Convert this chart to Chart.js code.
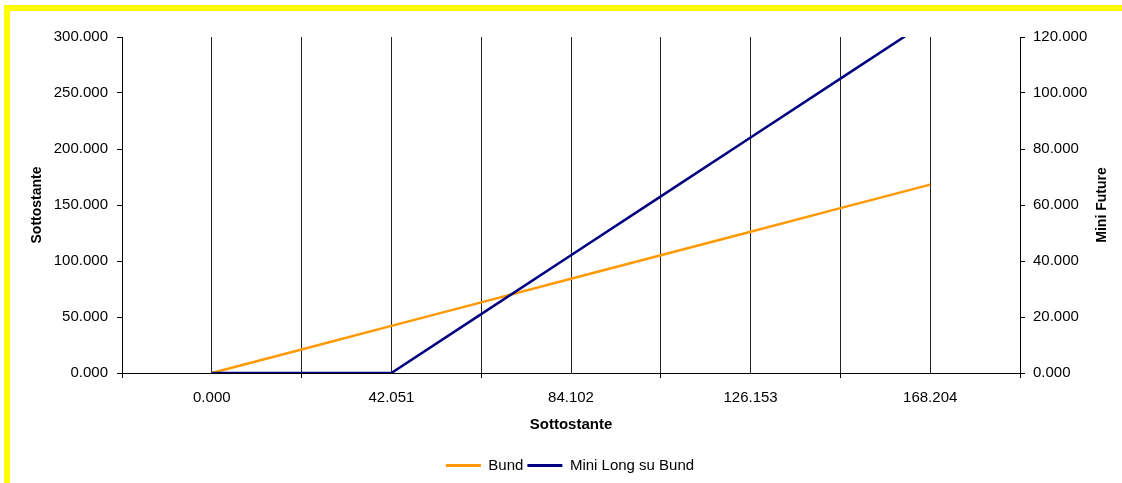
<!DOCTYPE html>
<html>
<head>
<meta charset="utf-8">
<script src="https://cdn.jsdelivr.net/npm/chart.js@4"></script>
<style>
  html, body { margin: 0; padding: 0; background: #fff; }
  canvas { display: block; }
</style>
</head>
<body>
<canvas id="chart" width="1122" height="483"></canvas>
<script>
// categories on the x axis (only every other one gets a label)
const categories = ['', '0.000', '21.026', '42.051', '63.077', '84.102', '105.128', '126.153', '147.179', '168.204', ''];
const bund = [null, 0, 21.026, 42.051, 63.077, 84.102, 105.128, 126.153, 147.179, 168.204, null];
const miniLong = [null, 0, 0, 0, 21.026, 42.051, 63.077, 84.102, 105.128, 126.153, null];
const leftTicks = [0, 50, 100, 150, 200, 250, 300];
const rightTicks = [0, 20, 40, 60, 80, 100, 120];

const fontFamily = '"Liberation Sans", Arial, sans-serif';

const frame = {
    id: 'frame',
    beforeDraw(chart) {
        const ctx = chart.ctx;
        ctx.save();
        ctx.fillStyle = '#fff';
        ctx.fillRect(0, 0, chart.width, chart.height);
        ctx.fillStyle = '#ffff00';
        ctx.fillRect(4, 5, chart.width - 4, 6);
        ctx.fillRect(4, 5, 6, chart.height - 5);
        ctx.restore();
    },
    afterDraw(chart) {
        const ctx = chart.ctx;
        const midY = (chart.chartArea.top + chart.chartArea.bottom) / 2;
        ctx.save();
        ctx.fillStyle = '#000';
        ctx.font = 'bold 14px ' + fontFamily;
        ctx.textAlign = 'center';
        ctx.textBaseline = 'middle';
        ctx.translate(37, midY);
        ctx.rotate(-Math.PI / 2);
        ctx.fillText('Sottostante', 0, 0);
        ctx.restore();

        ctx.save();
        ctx.fillStyle = '#000';
        ctx.font = 'bold 14px ' + fontFamily;
        ctx.textAlign = 'center';
        ctx.textBaseline = 'middle';
        ctx.translate(1102, midY);
        ctx.rotate(-Math.PI / 2);
        ctx.fillText('Mini Future', 0, 0);
        ctx.restore();
    }
};

const ctx = document.getElementById('chart').getContext('2d');
new Chart(ctx, {
    type: 'line',
    data: {
        labels: categories,
        datasets: [{
            label: 'Bund',
            data: bund,
            yAxisID: 'y',
            borderColor: '#ff9900',
            backgroundColor: '#ff9900',
            borderWidth: 2.5,
            pointRadius: 0,
            tension: 0,
            order: 1
        }, {
            label: 'Mini Long su Bund',
            data: miniLong,
            yAxisID: 'y1',
            borderColor: '#000080',
            backgroundColor: '#000080',
            borderWidth: 2.5,
            pointRadius: 0,
            tension: 0,
            order: 0
        }]
    },
    options: {
        responsive: false,
        animation: false,
        devicePixelRatio: 1,
        layout: {
            padding: { left: 18, right: 0, top: 37, bottom: 0 }
        },
        plugins: {
            tooltip: { enabled: false },
            legend: {
                position: 'bottom',
                labels: {
                    color: '#000',
                    font: { family: fontFamily, size: 15 },
                    boxWidth: 35,
                    boxHeight: 3,
                    padding: 4,
                    sort: (a, b) => a.datasetIndex - b.datasetIndex,
                    generateLabels: chart => Chart.defaults.plugins.legend.labels.generateLabels(chart)
                        .map(item => ({ ...item, lineWidth: 0 }))
                }
            }
        },
        scales: {
            x: {
                type: 'category',
                offset: false,
                afterFit: scale => { scale.height = 81; },
                grid: {
                    color: '#222',
                    lineWidth: 1,
                    tickLength: 5,
                    tickColor: c => c.index % 2 === 0 ? '#000' : 'rgba(0,0,0,0)'
                },
                border: { color: '#000', width: 1 },
                ticks: {
                    autoSkip: false,
                    maxRotation: 0,
                    padding: 11,
                    color: '#000',
                    font: { family: fontFamily, size: 15 },
                    callback: (val, i) => i % 2 === 1 ? categories[i] : ''
                },
                title: {
                    display: true,
                    text: 'Sottostante',
                    color: '#000',
                    font: { family: fontFamily, size: 15, weight: 'bold' },
                    padding: { top: 0, bottom: 20 }
                }
            },
            y: {
                position: 'left',
                min: leftTicks[0],
                max: leftTicks[leftTicks.length - 1],
                afterFit: scale => { scale.width = 104; },
                afterBuildTicks: scale => { scale.ticks = leftTicks.map(v => ({ value: v })); },
                grid: { drawOnChartArea: false, tickLength: 5, tickColor: '#000' },
                border: { color: '#000', width: 1 },
                ticks: {
                    padding: 9,
                    color: '#000',
                    font: { family: fontFamily, size: 15 },
                    callback: v => v.toFixed(3)
                }
            },
            y1: {
                position: 'right',
                min: rightTicks[0],
                max: rightTicks[rightTicks.length - 1],
                afterFit: scale => { scale.width = 102; },
                afterBuildTicks: scale => { scale.ticks = rightTicks.map(v => ({ value: v })); },
                grid: { drawOnChartArea: false, tickLength: 5, tickColor: '#000' },
                border: { color: '#000', width: 1 },
                ticks: {
                    padding: 8,
                    color: '#000',
                    font: { family: fontFamily, size: 15 },
                    callback: v => v.toFixed(3)
                }
            }
        }
    },
    plugins: [frame]
});
</script>
</body>
</html>
